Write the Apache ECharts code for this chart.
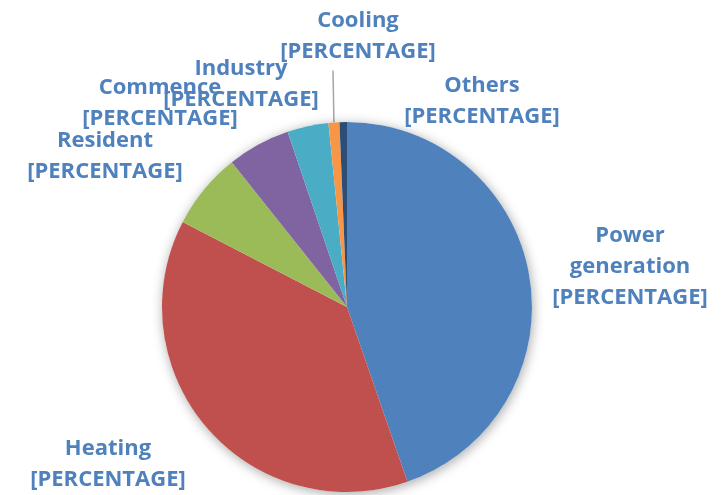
<!DOCTYPE html>
<html>
<head>
<meta charset="utf-8">
<script src="https://cdn.jsdelivr.net/npm/echarts@6/dist/echarts.min.js"></script>
<style>
  html, body { margin: 0; padding: 0; background: #fff; }
  #chart { width: 725px; height: 495px; }
</style>
</head>
<body>
<div id="chart"></div>
<script>
const categories = ['Power generation', 'Heating', 'Resident', 'Commence', 'Industry', 'Cooling', 'Others']
const values = [44.7, 37.9, 6.7, 5.5, 3.6, 0.95, 0.65]
const labelNames = ['Power\ngeneration', 'Heating', 'Resident', 'Commence', 'Industry', 'Cooling', 'Others']
const colors = ['#4F81BD', '#C0504D', '#9BBB59', '#8064A2', '#4BACC6', '#F79646', '#2C4D75']

// label centres
const labelSpots = [[630, 267], [108, 464], [105, 156], [160, 103], [241, 84], [333, 36], [482, 101]]

const pieCenter = [347, 307]
const pieRadius = 185

const chart = echarts.init(document.getElementById('chart'))
chart.setOption({
  animation: false,
  series: [
    {
      // shadow disc behind the pie
      type: 'pie',
      silent: true,
      center: pieCenter,
      radius: pieRadius,
      label: { show: false },
      labelLine: { show: false },
      data: [{ value: 1, itemStyle: { color: '#fff', shadowBlur: 12, shadowColor: 'rgba(0,0,0,0.35)', shadowOffsetX: 1, shadowOffsetY: 2 } }]
    },
    {
      type: 'pie',
      center: pieCenter,
      radius: pieRadius,
      startAngle: 90,
      clockwise: true,
      avoidLabelOverlap: false,
      data: categories.map((c, i) => ({
        name: c,
        value: values[i],
        itemStyle: { color: colors[i] },
        labelLine: { show: c === 'Cooling' },
        // cooling: widen the box on the left so the leader line drops straight down
        label: c === 'Cooling' ? { padding: [0, 0, 7, 50] } : {}
      })),
      label: {
        show: true,
        position: 'outside',
        formatter: p => labelNames[p.dataIndex] + '\n[PERCENTAGE]',
        color: '#4F81BD',
        fontFamily: 'Open Sans',
        fontWeight: 'bold',
        fontSize: 22,
        lineHeight: 31,
        align: 'center'
      },
      labelLine: {
        lineStyle: { color: '#A6A6A6', width: 1.5 },
        length: 10,
        length2: 0
      },
      labelLayout: p => {
        const s = labelSpots[p.dataIndex]
        return { x: s[0], y: s[1], align: 'center', verticalAlign: 'middle' }
      }
    }
  ]
})
</script>
</body>
</html>
